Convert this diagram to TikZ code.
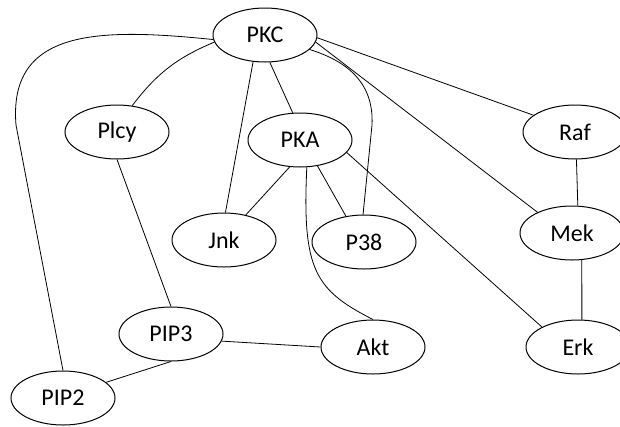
\documentclass[tikz,border=0pt]{standalone}
\usepackage{fontspec}
\setmainfont{Carlito}
\usetikzlibrary{shapes.geometric}

\begin{document}
\begin{tikzpicture}[x=1pt,y=-1pt,line width=0.8pt,
  prot/.style={draw, ellipse, inner sep=0pt, minimum width=104pt, minimum height=54pt, line width=1pt, font=\fontsize{24}{27}\selectfont}]
\useasboundingbox (0,0) rectangle (620,426);

\node[prot] (pkc) at (265,35) {PKC};
\node[prot] (plcy) at (117,132) {Plcy};
\node[prot] (pka) at (300,140) {PKA};
\node[prot] (raf) at (575,132) {Raf};
\node[prot] (jnk) at (224,240) {Jnk};
\node[prot] (p38) at (364,242) {P38};
\node[prot] (mek) at (572,233) {Mek};
\node[prot] (pip3) at (171,334) {PIP3};
\node[prot] (akt) at (373,347) {Akt};
\node[prot] (erk) at (578,347) {Erk};
\node[prot] (pip2) at (63,398) {PIP2};

% edges from PKC
\draw (pkc.185) .. controls (100,28) and (8,28) .. (16,125) -- (pip2.north);
\draw (pkc.188) to[bend right=15] (plcy.60);
\draw (pkc.246) -- (jnk.87);
\draw (pkc.280) -- (pka.105);
\draw (pkc.342) .. controls (350,62) and (374,85) .. (372,125) -- (p38.92);
\draw (pkc.352) -- (mek.149);
\draw (pkc.357) -- (raf.158);

% edges from PKA
\draw (pka.249) -- (jnk.49);
\draw (pka.304) -- (p38.125);
\draw (pka.284) .. controls (302,270) and (315,290) .. (akt.north);
\draw (pka.345) -- (erk.151);

% right column
\draw (raf.273) -- (mek.78);
\draw (mek.290) -- (erk.82);

% lower left
\draw (plcy.south) -- (pip3.north);
\draw (pip3.352) -- (akt.west);
\draw (pip3.south) -- (pip2.20);
\end{tikzpicture}
\end{document}
